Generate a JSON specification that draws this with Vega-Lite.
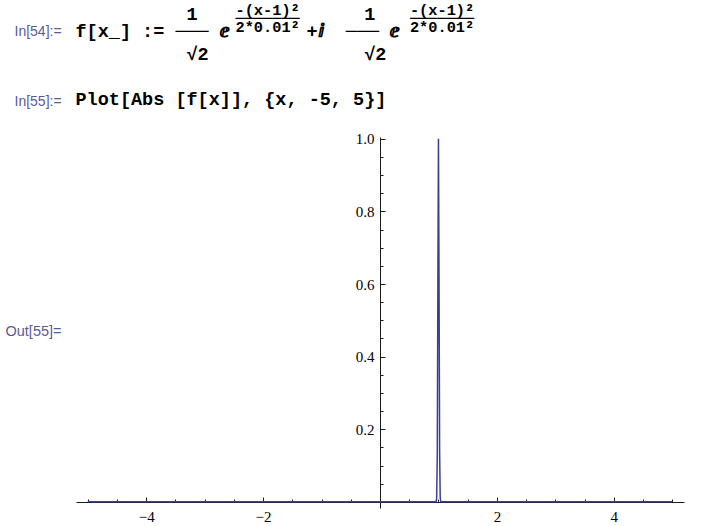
{
  "$schema": "https://vega.github.io/schema/vega-lite/v6.json",
  "width": 608,
  "height": 371,
  "autosize": "none",
  "padding": {"left": 76, "top": 137, "right": 19, "bottom": 18},
  "background": "white",
  "config": {
    "view": {"stroke": null},
    "axis": {"grid": false, "domainColor": "#1a1a1a", "tickColor": "#1a1a1a", "labelFont": "Liberation Serif", "labelFontSize": 15, "labelColor": "#000000", "tickWidth": 1, "domainWidth": 1}
  },
  "data": {"values": [
    {"x": -5, "y": 0},
    {"x": 0.95, "y": 0},
    {"x": 0.96, "y": 0.0003},
    {"x": 0.97, "y": 0.0111},
    {"x": 0.98, "y": 0.1353},
    {"x": 0.99, "y": 0.6065},
    {"x": 1, "y": 1},
    {"x": 1.01, "y": 0.6065},
    {"x": 1.02, "y": 0.1353},
    {"x": 1.03, "y": 0.0111},
    {"x": 1.04, "y": 0.0003},
    {"x": 1.05, "y": 0},
    {"x": 5, "y": 0}
  ]},
  "layer": [
    {
      "mark": {"type": "line", "strokeOpacity": 0},
      "encoding": {
        "x": {"field": "x", "type": "quantitative", "scale": {"domain": [-5.2, 5.2], "nice": false, "zero": false},
          "axis": {"orient": "bottom", "offset": -6, "domain": false, "labels": false, "tickSize": -3,
            "values": [-5, -4.5, -4, -3.5, -3, -2.5, -2, -1.5, -1, -0.5, 0, 0.5, 1, 1.5, 2, 2.5, 3, 3.5, 4, 4.5, 5],
            "title": ["-(x-1)²\u00a0\u00a0\u00a0\u00a0\u00a0\u00a0\u00a0\u00a0\u00a0\u00a0\u00a0\u00a0-(x-1)²", "───────\u00a0\u00a0\u00a0\u00a0\u00a0\u00a0\u00a0\u00a0\u00a0\u00a0\u00a0\u00a0───────", "2*0.01²\u00a0\u00a0\u00a0\u00a0\u00a0\u00a0\u00a0\u00a0\u00a0\u00a0\u00a0\u00a02*0.01²"],
            "titleFont": "Liberation Mono", "titleFontSize": 15.3, "titleFontWeight": "bold", "titleColor": "#000000",
            "titleLineHeight": 8.8, "titleX": 159, "titleY": -488, "titleAlign": "left", "titleBaseline": "alphabetic", "titleAngle": 0}},
        "y": {"field": "y", "type": "quantitative", "scale": {"domain": [-0.017, 1.005], "nice": false, "zero": false},
          "axis": {"orient": "left", "offset": -304, "domain": false, "labels": false, "tickSize": -3,
            "values": [0.05, 0.1, 0.15, 0.2, 0.25, 0.3, 0.35, 0.4, 0.45, 0.5, 0.55, 0.6, 0.65, 0.7, 0.75, 0.8, 0.85, 0.9, 0.95, 1],
            "title": null}}
      }
    },
    {
      "mark": {"type": "line", "strokeOpacity": 0},
      "encoding": {
        "x": {"field": "x", "type": "quantitative", "scale": {"domain": [-5.2, 5.2], "nice": false, "zero": false},
          "axis": {"orient": "bottom", "offset": -6, "domain": true, "tickSize": -5, "labelPadding": 12.8,
            "values": [-4, -2, 2, 4], "format": "d",
            "title": ["In[54]:=", "In[55]:="],
            "titleFont": "Liberation Sans", "titleFontSize": 14, "titleFontWeight": "normal", "titleColor": "#5a5a96",
            "titleLineHeight": 70, "titleX": -62, "titleY": -467, "titleAlign": "left", "titleBaseline": "alphabetic", "titleAngle": 0}},
        "y": {"field": "y", "type": "quantitative", "scale": {"domain": [-0.017, 1.005], "nice": false, "zero": false},
          "axis": {"orient": "left", "offset": -304, "domain": true, "tickSize": -5, "labelPadding": 11,
            "values": [0.2, 0.4, 0.6, 0.8, 1], "format": ".1f",
            "title": "Out[55]=",
            "titleFont": "Liberation Sans", "titleFontSize": 14.5, "titleFontWeight": "normal", "titleColor": "#5a5a96",
            "titleX": -375, "titleY": 198, "titleAlign": "left", "titleBaseline": "alphabetic", "titleAngle": 0}}
      }
    },
    {
      "mark": {"type": "line", "color": "#3d3d99", "strokeWidth": 1.5},
      "encoding": {
        "x": {"field": "x", "type": "quantitative", "scale": {"domain": [-5.2, 5.2], "nice": false, "zero": false},
          "axis": {"orient": "bottom", "offset": -6, "domain": false, "ticks": false, "labels": false,
            "title": ["\u200b\u00a0\u00a0\u00a0\u00a0\u00a0\u00a0\u00a0\u00a0\u00a0\u00a01\u00a0\u00a0\u00a0\u00a0\u00a0\u00a0\u00a0\u00a0\u00a0\u00a0\u00a0\u00a0\u00a0\u00a0\u00a01", "f[x_] :=\u00a0───\u00a0ⅇ\u00a0\u00a0\u00a0\u00a0\u00a0\u00a0\u00a0+ⅈ\u00a0\u00a0───\u00a0ⅇ"],
            "titleFont": "Liberation Mono", "titleFontSize": 18.5, "titleFontWeight": "bold", "titleColor": "#000000",
            "titleLineHeight": 17.5, "titleX": -1, "titleY": -483, "titleAlign": "left", "titleBaseline": "alphabetic", "titleAngle": 0}},
        "y": {"field": "y", "type": "quantitative", "scale": {"domain": [-0.017, 1.005], "nice": false, "zero": false},
          "axis": {"orient": "left", "offset": -304, "domain": false, "ticks": false, "labels": false,
            "title": ["\u200b\u00a0\u00a0\u00a0\u00a0\u00a0\u00a0\u00a0\u00a0\u00a0\u00a0√2\u00a0\u00a0\u00a0\u00a0\u00a0\u00a0\u00a0\u00a0\u00a0\u00a0\u00a0\u00a0\u00a0\u00a0√2", "Plot[Abs [f[x]], {x, -5, 5}]"],
            "titleFont": "Liberation Mono", "titleFontSize": 18.5, "titleFontWeight": "bold", "titleColor": "#000000",
            "titleLineHeight": 45.5, "titleX": -305, "titleY": -78, "titleAlign": "left", "titleBaseline": "alphabetic", "titleAngle": 0}}
      }
    }
  ],
  "resolve": {"axis": {"x": "independent", "y": "independent"}}
}
